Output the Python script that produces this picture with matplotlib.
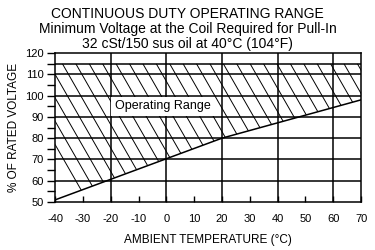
import matplotlib
matplotlib.use('Agg')
import numpy as np
import matplotlib.pyplot as plt
from matplotlib.patches import Polygon
from matplotlib.collections import LineCollection
from matplotlib.ticker import MultipleLocator

plt.rcParams['font.family'] = ['Liberation Sans', 'DejaVu Sans']
plt.rcParams['axes.unicode_minus'] = False

# lower limit of operating range (minimum pull-in voltage)
temps = [-40, 20, 70]
min_voltage = [51, 80, 98]
max_voltage = 115

title_lines = ['CONTINUOUS DUTY OPERATING RANGE',
               'Minimum Voltage at the Coil Required for Pull-In',
               '32 cSt/150 sus oil at 40\u00b0C (104\u00b0F)']
x_label = 'AMBIENT TEMPERATURE (\u00b0C)'
y_label = '% OF RATED VOLTAGE'
region_label = 'Operating Range'

fig = plt.figure(figsize=(3.75, 2.5), dpi=100)
ax = fig.add_axes([0.147, 0.192, 0.816, 0.596])
ax.set_xlim(-40, 70)
ax.set_ylim(50, 120)

# grid
for gx in range(-20, 70, 20):
    ax.axvline(gx, color='black', lw=1.1, zorder=1)
for gy in range(60, 120, 10):
    ax.axhline(gy, color='black', lw=1.1, zorder=1)
ax.axhline(max_voltage, color='black', lw=1.1, zorder=1)

# hatched operating region
verts = list(zip(temps, min_voltage)) + [(temps[-1], max_voltage), (temps[0], max_voltage)]
poly = Polygon(verts, closed=True, facecolor='none', edgecolor='none')
ax.add_patch(poly)
steep = 2.28  # deg C per % in data units -> steep backslash hatch
segs = []
for x0 in np.arange(-37.4 - 4.82 * 4, 75, 4.82):
    segs.append([(x0, max_voltage), (x0 + (max_voltage - 50) / steep, 50)])
hatch = LineCollection(segs, colors='black', linewidths=0.7, zorder=2)
hatch.set_clip_path(poly)
ax.add_collection(hatch)

ax.plot(temps, min_voltage, color='black', lw=1.1, zorder=3)

ax.text(-18.5, 95, region_label, fontsize=9, ha='left', va='center', zorder=4,
        bbox=dict(facecolor='white', edgecolor='none', pad=2.5))

# ticks
ax.yaxis.set_major_locator(MultipleLocator(10))
ax.yaxis.set_minor_locator(MultipleLocator(5))
ax.xaxis.set_major_locator(MultipleLocator(10))
ax.tick_params(axis='y', which='both', direction='out', length=6, width=1, labelsize=8, pad=2)
ax.tick_params(axis='x', direction='in', length=4, width=1, labelsize=8, pad=9)
for s in ax.spines.values():
    s.set_linewidth(1.1)

ax.set_xlabel(x_label, fontsize=8.5, labelpad=7)
ax.set_ylabel(y_label, fontsize=8.5, labelpad=4)

for i, line in enumerate(title_lines):
    fig.text(0.5, 0.972 - i * 0.06, line, ha='center', va='top', fontsize=10)

fig.savefig('out.png', dpi=100)
